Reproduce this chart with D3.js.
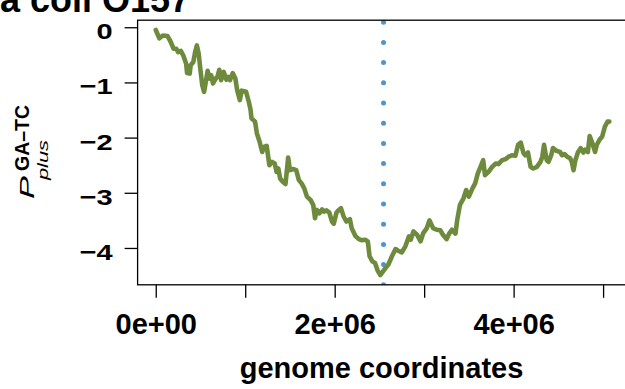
<!DOCTYPE html>
<html>
<head>
<meta charset="utf-8">
<script src="https://cdn.jsdelivr.net/npm/d3@7"></script>
<style>
  body { margin: 0; background: #fff; }
  text { font-family: "Liberation Sans", Arial, sans-serif; }
</style>
</head>
<body>
<div id="chart"></div>
<script>
// cumulative GA-TC skew along the genome, positions in Mb
var positionsMb = [0.00, 0.04, 0.08, 0.13, 0.16, 0.20, 0.23, 0.25, 0.28, 0.31, 0.34, 0.35, 0.38, 0.39, 0.42, 0.44, 0.46, 0.48, 0.50, 0.52,
  0.54, 0.56, 0.58, 0.60, 0.62, 0.64, 0.67, 0.69, 0.71, 0.73, 0.76, 0.79, 0.81, 0.83, 0.86, 0.89, 0.91, 0.94, 0.96, 1.01,
  1.04, 1.06, 1.07, 1.11, 1.13, 1.16, 1.19, 1.21, 1.24, 1.27, 1.30, 1.33, 1.35, 1.37, 1.39, 1.42, 1.45, 1.47, 1.48, 1.50,
  1.54, 1.57, 1.60, 1.63, 1.66, 1.69, 1.73, 1.76, 1.78, 1.80, 1.83, 1.86, 1.88, 1.91, 1.94, 1.97, 1.99, 2.02, 2.04, 2.07,
  2.10, 2.13, 2.17, 2.19, 2.23, 2.27, 2.30, 2.34, 2.37, 2.39, 2.42, 2.45, 2.48, 2.51, 2.57, 2.60, 2.64, 2.68, 2.71, 2.75,
  2.79, 2.83, 2.85, 2.88, 2.92, 2.96, 2.99, 3.03, 3.06, 3.10, 3.14, 3.18, 3.21, 3.25, 3.28, 3.31, 3.35, 3.37, 3.40, 3.44,
  3.47, 3.50, 3.54, 3.57, 3.60, 3.63, 3.66, 3.68, 3.72, 3.76, 3.80, 3.83, 3.87, 3.91, 3.94, 3.98, 4.02, 4.05, 4.08, 4.11,
  4.13, 4.16, 4.19, 4.22, 4.26, 4.30, 4.32, 4.34, 4.37, 4.39, 4.42, 4.44, 4.48, 4.52, 4.54, 4.57, 4.60, 4.63, 4.65, 4.67,
  4.69, 4.72, 4.75, 4.78, 4.80, 4.83, 4.85, 4.88, 4.91, 4.93, 4.96, 4.99, 5.02, 5.05, 5.07]
var skewValues = [-0.05, -0.20, -0.15, -0.16, -0.24, -0.39, -0.39, -0.45, -0.43, -0.52, -0.66, -0.83, -0.84, -0.69, -0.63, -0.45, -0.33, -0.48, -0.78, -1.05,
  -1.17, -0.99, -0.79, -0.93, -0.87, -1.02, -0.93, -0.90, -0.77, -0.96, -0.81, -0.95, -0.90, -0.96, -0.83, -0.93, -1.14, -1.32, -1.15, -1.17,
  -1.35, -1.50, -1.65, -1.71, -1.92, -2.07, -2.26, -2.17, -2.15, -2.50, -2.44, -2.47, -2.62, -2.56, -2.74, -2.80, -2.84, -2.53, -2.36, -2.59,
  -2.57, -2.59, -2.77, -2.83, -2.92, -3.07, -3.13, -3.22, -3.46, -3.31, -3.37, -3.30, -3.34, -3.32, -3.36, -3.52, -3.56, -3.36, -3.32, -3.28,
  -3.43, -3.52, -3.48, -3.64, -3.78, -3.84, -3.86, -3.85, -3.88, -4.15, -4.24, -4.27, -4.41, -4.49, -4.36, -4.30, -4.15, -4.02, -4.05, -4.08,
  -3.97, -3.79, -3.85, -3.70, -3.76, -3.88, -3.73, -3.64, -3.50, -3.64, -3.67, -3.68, -3.76, -3.84, -3.74, -3.67, -3.74, -3.49, -3.22, -3.10,
  -2.95, -3.07, -2.92, -2.83, -2.65, -2.53, -2.41, -2.68, -2.62, -2.53, -2.47, -2.48, -2.41, -2.39, -2.35, -2.32, -2.33, -2.13, -2.09, -2.28,
  -2.32, -2.27, -2.53, -2.56, -2.53, -2.44, -2.35, -2.13, -2.41, -2.44, -2.32, -2.19, -2.24, -2.26, -2.32, -2.30, -2.35, -2.37, -2.44, -2.59,
  -2.41, -2.26, -2.19, -2.27, -2.22, -2.26, -1.97, -2.10, -2.26, -2.13, -2.04, -1.98, -1.80, -1.71, -1.71]

// replication terminus marker (dotted line)
var terminusMb = 2.546

var xTickValues = [0, 1, 2, 3, 4, 5]
var xTickLabels = ['0e+00', '', '2e+06', '', '4e+06', '']
var yTickValues = [0, -1, -2, -3, -4]

var width = 625
var height = 389
var box = { left: 137.6, right: 627.5, top: 20.2, bottom: 284.8 }

var data = positionsMb.map(function (p, i) { return { x: p * 1e6, y: skewValues[i] } })
  .filter(function (d) { return d.y !== undefined })

// R style 4% padding around the data range
var xExt = d3.extent(data, function (d) { return d.x })
var yExt = d3.extent(data, function (d) { return d.y })
var xPad = (xExt[1] - xExt[0]) * 0.04
var yPad = (yExt[1] - yExt[0]) * 0.04

var x = d3.scaleLinear().domain([xExt[0] - xPad, xExt[1] + xPad]).range([box.left, box.right])
var y = d3.scaleLinear().domain([yExt[0] - yPad, yExt[1] + yPad]).range([box.bottom, box.top])

var svg = d3.select('#chart')
  .append('svg')
  .attr('width', width)
  .attr('height', height)

svg.append('clipPath').attr('id', 'plot-clip')
  .append('rect')
  .attr('x', box.left).attr('y', box.top)
  .attr('width', box.right - box.left).attr('height', box.bottom - box.top)

// title, only its tail is visible (cropped like the original)
svg.append('text')
  .attr('x', 190)
  .attr('y', 12)
  .attr('text-anchor', 'end')
  .style('font-size', '36px')
  .style('font-weight', 'bold')
  .text('Escherichia coli O157')

// dotted terminus line, drawn bottom to top
svg.append('line')
  .attr('clip-path', 'url(#plot-clip)')
  .attr('x1', x(terminusMb * 1e6)).attr('x2', x(terminusMb * 1e6))
  .attr('y1', box.bottom).attr('y2', box.top)
  .style('stroke', '#4F94CD')
  .style('stroke-width', 5)
  .style('stroke-linecap', 'round')
  .style('stroke-dasharray', '0 20.2')

var line = d3.line()
  .x(function (d) { return x(d.x) })
  .y(function (d) { return y(d.y) })

svg.append('path')
  .datum(data)
  .attr('d', line)
  .style('fill', 'none')
  .style('stroke', '#6E8B3D')
  .style('stroke-width', 4.6)
  .style('stroke-linejoin', 'round')
  .style('stroke-linecap', 'round')

// plot box
svg.append('rect')
  .attr('x', box.left).attr('y', box.top)
  .attr('width', box.right - box.left).attr('height', box.bottom - box.top)
  .style('fill', 'none')
  .style('stroke', 'black')
  .style('stroke-width', 1.3)

// x axis
var xAxis = svg.append('g')
  .attr('transform', 'translate(0,' + box.bottom + ')')
  .call(d3.axisBottom(x)
    .tickValues(xTickValues.map(function (v) { return v * 1e6 }))
    .tickSize(13)
    .tickFormat(function (d, i) { return xTickLabels[i] }))
xAxis.select('.domain').remove()
xAxis.selectAll('line').style('stroke', 'black').style('stroke-width', 1.3)
xAxis.selectAll('text')
  .attr('y', 49.2)
  .attr('dy', 0)
  .style('font-size', '29px')
  .style('font-weight', 'bold')
  .style('font-family', '"Liberation Sans", Arial, sans-serif')
  .style('fill', 'black')

// y axis
var yAxis = svg.append('g')
  .attr('transform', 'translate(' + box.left + ',0)')
  .call(d3.axisLeft(y).tickValues(yTickValues).tickSize(13).tickFormat(d3.format('d')))
yAxis.select('.domain').remove()
yAxis.selectAll('line').style('stroke', 'black').style('stroke-width', 1.3)
// tick labels look squashed vertically in the original
yAxis.selectAll('.tick text')
  .attr('x', null).attr('dy', null)
  .attr('transform', 'translate(-25,11.5) scale(1,0.78)')
  .style('font-size', '29px')
  .style('font-weight', 'bold')
  .style('font-family', '"Liberation Sans", Arial, sans-serif')
  .style('fill', 'black')

// x label
svg.append('text')
  .attr('x', 381.5)
  .attr('y', 378)
  .attr('text-anchor', 'middle')
  .style('font-size', '29px')
  .style('font-weight', 'bold')
  .text('genome coordinates')

// y label: P with superscript GA-TC and subscript plus
var ylab = svg.append('g').attr('transform', 'rotate(-90)')
ylab.append('text')
  .attr('x', -199).attr('y', 33.8)
  .attr('textLength', 23).attr('lengthAdjust', 'spacingAndGlyphs')
  .style('font-size', '20px')
  .style('font-style', 'italic')
  .text('P')
ylab.append('text')
  .attr('x', -171).attr('y', 28.5)
  .attr('textLength', 66).attr('lengthAdjust', 'spacingAndGlyphs')
  .style('font-size', '20px')
  .style('font-weight', 'bold')
  .text('GA\u2013TC')
ylab.append('text')
  .attr('x', -180).attr('y', 47.5)
  .attr('textLength', 40).attr('lengthAdjust', 'spacingAndGlyphs')
  .style('font-size', '15px')
  .style('font-style', 'italic')
  .text('plus')
</script>
</body>
</html>
